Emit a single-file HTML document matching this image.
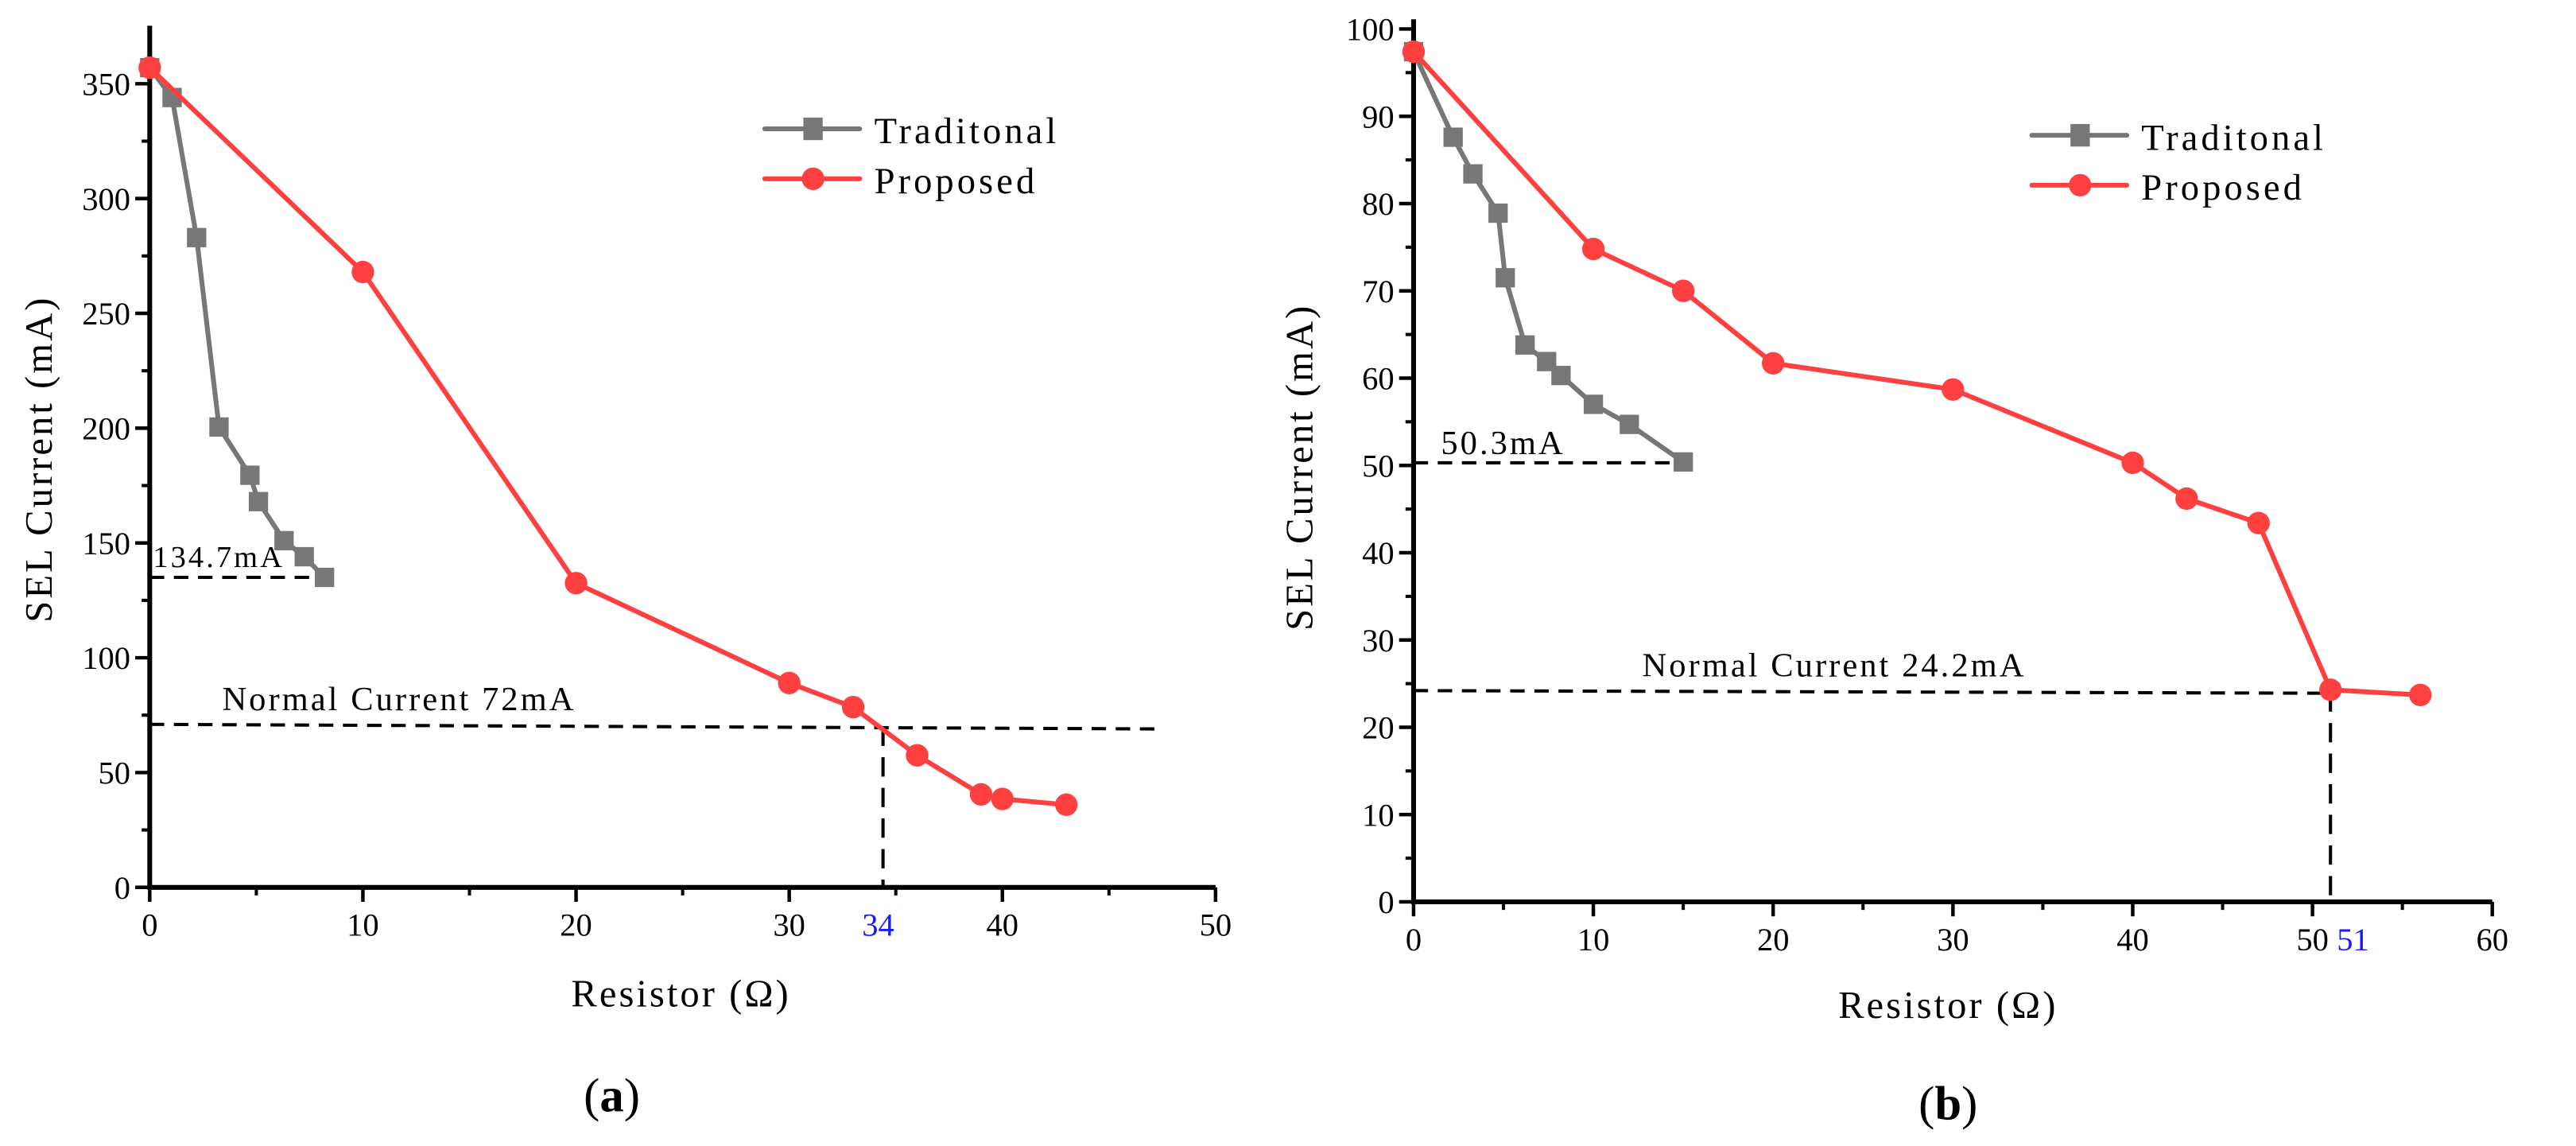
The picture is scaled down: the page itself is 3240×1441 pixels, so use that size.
<!DOCTYPE html>
<html><head><meta charset="utf-8"><style>
html,body{margin:0;padding:0;background:#fff;}
svg{display:block;}
text{font-family:"Liberation Serif","Noto Serif CJK SC",serif;fill:#000;}
</style></head><body>
<svg id="fig" width="3240" height="1441" viewBox="0 0 1600 711.6" xmlns="http://www.w3.org/2000/svg"></svg>
<script>
// ---- Chart (a) data ----
const aTradX = [0, 1.05, 2.2, 3.25, 4.7, 5.1, 6.3, 7.25, 8.2];
const aTradY = [357, 344, 283, 200.5, 179.5, 168, 151, 144, 135];
const aPropX = [0, 10, 20, 30, 33, 36, 39, 40, 43];
const aPropY = [357, 268, 132.5, 89, 78.5, 57.5, 40.5, 38.5, 36];
const aXTicks = [0, 10, 20, 30, 40, 50];
const aYTicks = [0, 50, 100, 150, 200, 250, 300, 350];
// ---- Chart (b) data ----
const bTradX = [0, 2.2, 3.3, 4.7, 5.1, 6.2, 7.4, 8.2, 10, 12, 15];
const bTradY = [97.4, 87.6, 83.4, 78.9, 71.5, 63.8, 61.9, 60.3, 57, 54.7, 50.4];
const bPropX = [0, 10, 15, 20, 30, 40, 43, 47, 51, 56];
const bPropY = [97.4, 74.8, 70, 61.7, 58.7, 50.3, 46.2, 43.4, 24.3, 23.7];
const bXTicks = [0, 10, 20, 30, 40, 50, 60];
const bYTicks = [0, 10, 20, 30, 40, 50, 60, 70, 80, 90, 100];

const NS = "http://www.w3.org/2000/svg";
const svg = document.getElementById('fig');
function el(tag, attrs, parent, txt){
  const e = document.createElementNS(NS, tag);
  for (const k in attrs) e.setAttribute(k, attrs[k]);
  if (txt !== undefined) e.textContent = txt;
  (parent || svg).appendChild(e);
  return e;
}

function drawChart(cfg){
  const g = el('g', {});
  
  
  const sx = v => cfg.x0 + (v - cfg.xmin) / (cfg.xmax - cfg.xmin) * (cfg.x1 - cfg.x0);
  const sy = v => cfg.y0 - (v - cfg.ymin) / (cfg.ymax - cfg.ymin) * (cfg.y0 - cfg.y1);
  // axes
  const ax = el('path', {d:`M${cfg.x0},${cfg.yTop} V${cfg.y0} H${cfg.x1}`, stroke:'#000','stroke-width':3, fill:'none'}, g);
  
  
  // x ticks
  cfg.xTicks.forEach((t, i) => {
    el('line', {x1:sx(t), x2:sx(t), y1:cfg.y0, y2:cfg.y0+9, stroke:'#000','stroke-width':2.2}, g);
    const tx = el('text', {x:sx(t), y:cfg.y0+30, 'font-size':20, 'text-anchor':'middle'}, g, String(t));
    
    
    if (i < cfg.xTicks.length - 1) {
      const m = (t + cfg.xTicks[i+1]) / 2;
      el('line', {x1:sx(m), x2:sx(m), y1:cfg.y0, y2:cfg.y0+5, stroke:'#000','stroke-width':2}, g);
    }
  });
  cfg.yTicks.forEach((t, i) => {
    el('line', {x1:cfg.x0-9, x2:cfg.x0, y1:sy(t), y2:sy(t), stroke:'#000','stroke-width':2.2}, g);
    const ty = el('text', {x:cfg.x0-12, y:sy(t)+7, 'font-size':20, 'text-anchor':'end'}, g, String(t));
    
    
    if (i < cfg.yTicks.length - 1) {
      const m = (t + cfg.yTicks[i+1]) / 2;
      el('line', {x1:cfg.x0-5, x2:cfg.x0, y1:sy(m), y2:sy(m), stroke:'#000','stroke-width':2}, g);
    }
  });
  // dashed reference lines
  cfg.hlines.forEach(h => {
    const l = el('line', {x1:sx(h.xa), x2:sx(h.xb), y1:sy(h.v), y2:sy(h.v2 !== undefined ? h.v2 : h.v), stroke:'#000','stroke-width':2,'stroke-dasharray':'9,6'}, g);
    
    
    const t = el('text', {x:h.lx, y:h.ly, 'font-size':h.fs || 21, 'letter-spacing':1.5}, g, h.label);
    
    
  });
  const vl = el('line', {x1:sx(cfg.vx), x2:sx(cfg.vx), y1:sy(cfg.vy), y2:cfg.y0, stroke:'#000','stroke-width':2,'stroke-dasharray':'12,7'}, g);
  
  
  const vt = el('text', {x:sx(cfg.vx)+cfg.vlOff, y:cfg.y0+30, 'font-size':20, fill:'#1a1aff', 'text-anchor':'middle'}, g, cfg.vlabel);
  vt.style.fill = '#1a1aff';
  
  
  // series
  const tr = el('polyline', {points: cfg.tx.map((x,i)=>sx(x)+','+sy(cfg.ty[i])).join(' '), fill:'none', stroke:'#777','stroke-width':3}, g);
  
  
  cfg.tx.forEach((x,i) => {
    const r = el('rect', {x:sx(x)-6, y:sy(cfg.ty[i])-6, width:12, height:12, fill:'#777'}, g);
    
    
  });
  const pr = el('polyline', {points: cfg.px.map((x,i)=>sx(x)+','+sy(cfg.py[i])).join(' '), fill:'none', stroke:'#ff4040','stroke-width':3}, g);
  
  
  cfg.px.forEach((x,i) => {
    const c = el('circle', {cx:sx(x), cy:sy(cfg.py[i]), r:7, fill:'#ff4040'}, g);
    
    
  });
  // legend
  const lg = el('g', {}, g);
  
  
  el('line', {x1:cfg.lgx, x2:cfg.lgx+59, y1:cfg.lgy, y2:cfg.lgy, stroke:'#777','stroke-width':3,'stroke-linecap':'round'}, lg);
  el('rect', {x:cfg.lgx+24, y:cfg.lgy-7, width:12, height:14, fill:'#777'}, lg);
  const l1 = el('text', {x:cfg.lgx+68, y:cfg.lgy+9, 'font-size':23, 'letter-spacing':2}, lg, 'Traditonal');
  
  
  el('line', {x1:cfg.lgx, x2:cfg.lgx+59, y1:cfg.lgy+31, y2:cfg.lgy+31, stroke:'#ff4040','stroke-width':3,'stroke-linecap':'round'}, lg);
  el('circle', {cx:cfg.lgx+30, cy:cfg.lgy+31, r:7, fill:'#ff4040'}, lg);
  const l2 = el('text', {x:cfg.lgx+68, y:cfg.lgy+40, 'font-size':23, 'letter-spacing':2}, lg, 'Proposed');
  
  
  // titles
  const xt = el('text', {x:cfg.xtx, y:cfg.xty, 'font-size':24, 'text-anchor':'middle', 'letter-spacing':1.5}, g, 'Resistor (Ω)');
  
  
  const yt = el('text', {x:0, y:0, 'font-size':24, 'text-anchor':'middle', 'letter-spacing':1.5, transform:`translate(${cfg.ytx},${cfg.yty}) rotate(-90)`}, g, 'SEL Current (mA)');
  
  
  const pl = el('text', {x:cfg.ptx, y:cfg.pty, 'font-size':30, 'text-anchor':'middle'}, g, '');
  
  
  el('tspan', {}, pl, '(');
  el('tspan', {'font-weight':'bold'}, pl, cfg.panel);
  el('tspan', {}, pl, ')');
}

drawChart({name:'chart-a', x0:93, x1:755, xmin:0, xmax:50, y0:551, y1:52, ymin:0, ymax:350, yTop:16,
  xTicks:aXTicks, yTicks:aYTicks, tx:aTradX, ty:aTradY, px:aPropX, py:aPropY,
  hlines:[{name:'sel-134-line', xa:0, xb:8.6, v:135, label:'134.7mA', lx:95, ly:352, fs:19},
          {name:'normal-current-line', xa:0, xb:47.2, v:71, v2:69, label:'Normal Current 72mA', lx:138, ly:441}],
  vx:34.4, vy:70, vlabel:'34', vlOff:-3,
  lgx:475, lgy:80, xtx:423, xty:625, ytx:32, yty:285, ptx:380, pty:690, panel:'a'});

drawChart({name:'chart-b', x0:878, x1:1548, xmin:0, xmax:60, y0:560, y1:18, ymin:0, ymax:100, yTop:12,
  xTicks:bXTicks, yTicks:bYTicks, tx:bTradX, ty:bTradY, px:bPropX, py:bPropY,
  hlines:[{name:'sel-50-line', xa:0, xb:15, v:50.3, label:'50.3mA', lx:895, ly:282},
          {name:'normal-current-line', xa:0, xb:51, v:24.2, v2:23.9, label:'Normal Current  24.2mA', lx:1020, ly:420}],
  vx:51, vy:24, vlabel:'51', vlOff:14,
  lgx:1262, lgy:84, xtx:1210, xty:632, ytx:815, yty:290, ptx:1210, pty:695, panel:'b'});
</script>
</body></html>
